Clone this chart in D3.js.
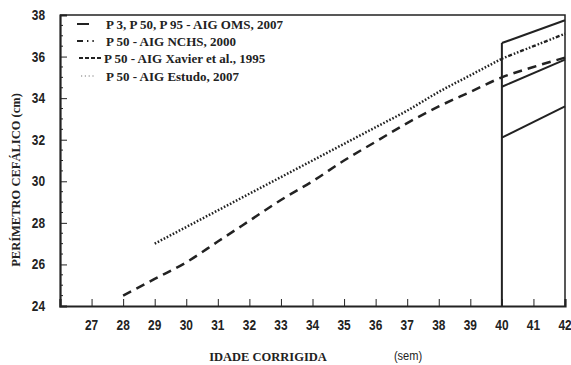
<!DOCTYPE html>
<html>
<head>
<meta charset="utf-8">
<script src="https://cdnjs.cloudflare.com/ajax/libs/d3/7.8.5/d3.min.js"></script>
<style>
  body { margin: 0; background: #fff; }
  svg { display: block; }
  .tick-lbl { font-family: "Liberation Sans Narrow", "Liberation Sans", Arial, sans-serif; font-weight: bold; font-size: 12px; fill: #222; }
  .serif { font-family: "Liberation Serif", "Times New Roman", serif; font-weight: bold; fill: #222; }
</style>
</head>
<body>
<div id="chart"></div>
<script>
// week ticks and cm ticks
var xTicks = [27, 28, 29, 30, 31, 32, 33, 34, 35, 36, 37, 38, 39, 40, 41, 42];
var yTicks = [24, 26, 28, 30, 32, 34, 36, 38];

// OMS 2007 percentiles (40 to 42 weeks)
var omsWeeks = [40, 42];
var omsP3 = [32.1, 33.6];
var omsP50 = [34.55, 35.85];
var omsP95 = [36.65, 37.75];

// NCHS 2000, P50
var nchsWeeks = [40, 41, 42];
var nchsP50 = [35.9, 36.5, 37.1];

// Xavier et al. 1995, P50
var xavierWeeks = [28, 29, 30, 31, 32, 33, 34, 35, 36, 37, 38, 39, 40, 41, 42];
var xavierP50 = [24.5, 25.3, 26.1, 27.1, 28.1, 29.1, 30.0, 31.0, 31.9, 32.8, 33.6, 34.3, 35.0, 35.5, 35.95];

// Estudo 2007, P50
var estudoWeeks = [29, 30, 31, 32, 33, 34, 35, 36, 37, 38, 39, 40];
var estudoP50 = [27.0, 27.8, 28.6, 29.4, 30.2, 31.0, 31.8, 32.6, 33.4, 34.3, 35.1, 35.9];

var legendLabels = [
  "P 3, P 50, P 95 - AIG OMS, 2007",
  "P 50 - AIG NCHS, 2000",
  "P 50 - AIG Xavier et al., 1995",
  "P 50 - AIG Estudo, 2007"
];

//////////////////////////////////////////////////////////////////////////////

var width = 571, height = 365;
var ink = "#222";

var svg = d3.select("#chart").append("svg")
  .attr("width", width)
  .attr("height", height);

var x = d3.scaleLinear().domain([26, 42]).range([60, 565]);
var y = d3.scaleLinear().domain([24, 38]).range([306, 15]);

function pts(ws, vs) {
  return ws.map(function(w, i) { return [w, vs[i]]; });
}

var line = d3.line()
  .x(function(d) { return x(d[0]); })
  .y(function(d) { return y(d[1]); });

// frame top + right
svg.append("path")
  .attr("d", "M" + x(26) + "," + y(38) + "H" + x(42) + "V" + y(24))
  .attr("fill", "none")
  .attr("stroke", ink)
  .attr("stroke-width", 1.5);

// minor y ticks every 0.5
var minor = d3.range(24.5, 38, 0.5).filter(function(v) { return v % 2 !== 0; });
svg.append("g").selectAll("line")
  .data(minor)
  .enter()
  .append("line")
  .attr("x1", x(26)).attr("x2", x(26) + 3)
  .attr("y1", function(d) { return y(d); })
  .attr("y2", function(d) { return y(d); })
  .attr("stroke", ink)
  .attr("stroke-width", 1);

// y axis
var yAxis = svg.append("g")
  .attr("transform", "translate(" + x(26) + ",0)")
  .call(d3.axisRight(y).tickValues(yTicks).tickSize(7).tickFormat(""));
yAxis.select(".domain").attr("stroke", ink).attr("stroke-width", 2.2);
yAxis.selectAll(".tick line").attr("stroke", ink).attr("stroke-width", 1);

svg.append("g").selectAll("text")
  .data(yTicks)
  .enter()
  .append("text")
  .attr("class", "tick-lbl")
  .attr("transform", function(d) { return "translate(45," + (y(d) + 5) + ") scale(0.85,1)"; })
  .style("font-size", "14px")
  .attr("text-anchor", "end")
  .text(function(d) { return d; });

// x axis
var xAxis = svg.append("g")
  .attr("transform", "translate(0," + y(24) + ")")
  .call(d3.axisTop(x).tickValues(xTicks).tickSize(7).tickFormat(""));
xAxis.select(".domain").attr("stroke", ink).attr("stroke-width", 2.2);
xAxis.selectAll(".tick line").attr("stroke", ink).attr("stroke-width", 1);

svg.append("g").selectAll("text")
  .data(xTicks)
  .enter()
  .append("text")
  .attr("class", "tick-lbl")
  .attr("transform", function(d) { return "translate(" + x(d) + ",330) scale(0.85,1)"; })
  .style("font-size", "14px")
  .attr("text-anchor", "middle")
  .text(function(d) { return d; });

// axis titles
svg.append("text")
  .attr("class", "serif")
  .attr("font-size", 12.5)
  .attr("x", 268).attr("y", 361)
  .attr("text-anchor", "middle")
  .text("IDADE CORRIGIDA");

svg.append("text")
  .attr("class", "tick-lbl")
  .style("font-size", "13px")
  .style("font-weight", "normal")
  .attr("transform", "translate(408,360) scale(0.85,1)")
  .attr("text-anchor", "middle")
  .text("(sem)");

svg.append("text")
  .attr("class", "serif")
  .attr("font-size", 12.5)
  .attr("transform", "translate(20,180) rotate(-90)")
  .attr("text-anchor", "middle")
  .text("PERÍMETRO CEFÁLICO (cm)");

// OMS boundary at 40 weeks
svg.append("path")
  .attr("d", line([[omsWeeks[0], 24], [omsWeeks[0], omsP95[0]]]))
  .attr("fill", "none")
  .attr("stroke", ink)
  .attr("stroke-width", 2);

// OMS percentiles
[omsP3, omsP50, omsP95].forEach(function(vals) {
  svg.append("path")
    .attr("d", line(pts(omsWeeks, vals)))
    .attr("fill", "none")
    .attr("stroke", ink)
    .attr("stroke-width", 2);
});

// Xavier
svg.append("path")
  .attr("d", line.curve(d3.curveMonotoneX)(pts(xavierWeeks, xavierP50)))
  .attr("fill", "none")
  .attr("stroke", ink)
  .attr("stroke-width", 2.5)
  .attr("stroke-dasharray", "9,6");

// Estudo
svg.append("path")
  .attr("d", line(pts(estudoWeeks, estudoP50)))
  .attr("fill", "none")
  .attr("stroke", ink)
  .attr("stroke-width", 2.5)
  .attr("stroke-dasharray", "1.6,1.8");

// NCHS
svg.append("path")
  .attr("d", line(pts(nchsWeeks, nchsP50)))
  .attr("fill", "none")
  .attr("stroke", ink)
  .attr("stroke-width", 2.4)
  .attr("stroke-dasharray", "1.6,1.8,1.6,1.8,4,2");

line.curve(d3.curveLinear);

// legend
var legY = [28, 45, 62, 80];
var leg = svg.append("g");

leg.append("line").attr("x1", 77).attr("x2", 89).attr("y1", legY[0] - 4).attr("y2", legY[0] - 4)
  .attr("stroke", ink).attr("stroke-width", 2);
leg.append("line").attr("x1", 77).attr("x2", 100).attr("y1", legY[1] - 4).attr("y2", legY[1] - 4)
  .attr("stroke", ink).attr("stroke-width", 2).attr("stroke-dasharray", "6,4,1.4,4,1.4,20");
leg.append("line").attr("x1", 79).attr("x2", 103).attr("y1", legY[2] - 4).attr("y2", legY[2] - 4)
  .attr("stroke", ink).attr("stroke-width", 1.8).attr("stroke-dasharray", "4,2");
leg.append("line").attr("x1", 81).attr("x2", 96).attr("y1", legY[3] - 4).attr("y2", legY[3] - 4)
  .attr("stroke", "#777").attr("stroke-width", 1.2).attr("stroke-dasharray", "1.2,2.6");

leg.selectAll("text")
  .data(legendLabels)
  .enter()
  .append("text")
  .attr("class", "serif")
  .attr("font-size", 13)
  .attr("x", function(d, i) { return i === 2 ? 104 : 106; })
  .attr("y", function(d, i) { return legY[i] + 1; })
  .text(function(d) { return d; });
</script>
</body>
</html>
